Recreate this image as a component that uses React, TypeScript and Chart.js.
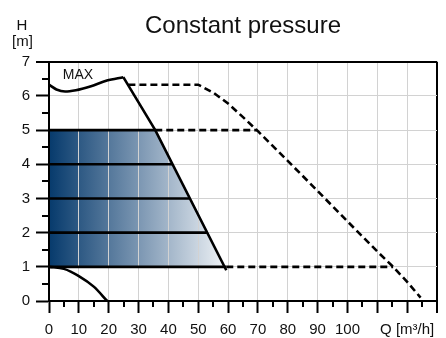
import React, { useEffect, useRef } from 'react';
import { Chart, registerables } from 'chart.js';

Chart.register(...registerables);

const FONT = "'Liberation Sans', Arial, Helvetica, sans-serif";

// ---- text ----
const TITLE = 'Constant pressure';
const Y_UNIT_LINES = ['H', '[m]'];
const X_UNIT_LABEL = 'Q [m³/h]';
const CURVE_LABEL = 'MAX';

// ---- axes ----
const X_MIN = 0;
const X_MAX = 130;
const Y_MIN = 0;
const Y_MAX = 7;
const X_LABELLED_TICKS = [0, 10, 20, 30, 40, 50, 60, 70, 80, 90, 100];
const X_UNIT_TICK = 120;
const Y_LABELLED_TICKS = [0, 1, 2, 3, 4, 5, 6, 7];

// ---- curves (Q in m³/h, H in m) ----
const maxCurveQ = [0, 2.5, 5.4, 9, 13.8, 19.4, 24.9];
const maxCurveH = [6.33, 6.19, 6.13, 6.17, 6.28, 6.45, 6.55];

const cutoffQ = [24.9, 35.6, 59.4];
const cutoffH = [6.55, 5, 0.9];

const levelH = [5, 4, 3, 2, 1];
const levelEndQ = [35.6, 41.3, 47.1, 52.9, 59.4];

const dashedMaxQ = [26.6, 50, 55, 60, 65, 70, 80, 90, 100, 110, 115.3, 120, 124.5];
const dashedMaxH = [6.33, 6.33, 6.1, 5.78, 5.38, 4.97, 4.1, 3.22, 2.33, 1.45, 1.0, 0.56, 0.1];

const dashedLevelH = [5, 1];
const dashedLevelStartQ = [35.6, 59.4];
const dashedLevelEndQ = [69.7, 115.3];

const minCurveQ = [0, 5, 10, 15, 19.5];
const minCurveH = [1, 0.94, 0.73, 0.42, 0];

const areaQ = [0, 35.6, 59.4];
const areaH = [5, 5, 1];
const areaBaseH = 1;
const areaGradientEndQ = 60;

const zip = (q: number[], h: number[]) => q.map((x, i) => ({ x, y: h[i] }));

const BLACK = '#000000';
const GRID = '#d2d2d2';

const textPlugin = {
  id: 'unitText',
  afterDraw(chart: any) {
    const { ctx, scales } = chart;
    ctx.save();
    ctx.fillStyle = '#111';
    ctx.textAlign = 'center';
    ctx.textBaseline = 'alphabetic';
    ctx.font = `15px ${FONT}`;
    ctx.fillText(Y_UNIT_LINES[0], 22, 30);
    ctx.fillText(Y_UNIT_LINES[1], 22.5, 46);
    ctx.textAlign = 'left';
    ctx.font = `14px ${FONT}`;
    ctx.fillText(CURVE_LABEL, scales.x.getPixelForValue(4.6), scales.y.getPixelForValue(6.52) + 0.5);
    ctx.restore();
  },
};

const solidLine = (data: any[], extra: any = {}) => ({
  data,
  borderColor: BLACK,
  borderWidth: 2.6,
  pointRadius: 0,
  fill: false,
  tension: 0,
  ...extra,
});

export default function App() {
  const ref = useRef<HTMLCanvasElement | null>(null);

  useEffect(() => {
    if (!ref.current) return;
    document.body.style.margin = '0';

    const datasets: any[] = [];

    // gradient area
    datasets.push({
      data: zip(areaQ, areaH),
      borderWidth: 0,
      borderColor: 'rgba(0,0,0,0)',
      pointRadius: 0,
      tension: 0,
      fill: { value: areaBaseH },
      backgroundColor: (c: any) => {
        const chart = c.chart;
        const { chartArea, scales } = chart;
        if (!chartArea || !scales.x) return 'rgba(0,0,0,0)';
        const x0 = scales.x.getPixelForValue(0);
        const x1 = scales.x.getPixelForValue(areaGradientEndQ);
        const g = chart.ctx.createLinearGradient(x0, 0, x1, 0);
        g.addColorStop(0, '#063a6c');
        g.addColorStop(0.5, '#7b96b2');
        g.addColorStop(1, '#f2f5f8');
        return g;
      },
    });

    datasets.push(solidLine(zip(maxCurveQ, maxCurveH), { cubicInterpolationMode: 'monotone' }));
    datasets.push(solidLine(zip(cutoffQ, cutoffH)));
    levelH.forEach((h, i) => {
      datasets.push(solidLine([{ x: 0, y: h }, { x: levelEndQ[i], y: h }]));
    });
    datasets.push(solidLine(zip(minCurveQ, minCurveH), { cubicInterpolationMode: 'monotone' }));
    datasets.push(solidLine(zip(dashedMaxQ, dashedMaxH), { borderDash: [7, 4] }));
    dashedLevelH.forEach((h, i) => {
      datasets.push(
        solidLine([{ x: dashedLevelStartQ[i], y: h }, { x: dashedLevelEndQ[i], y: h }], { borderDash: [7, 4] })
      );
    });

    const chart = new Chart(ref.current, {
      type: 'line',
      data: { datasets },
      plugins: [textPlugin],
      options: {
        responsive: false,
        animation: false,
        events: [],
        layout: { padding: { left: 0, right: 9, top: 0, bottom: 0 } },
        plugins: {
          legend: { display: false },
          tooltip: { enabled: false },
          filler: { drawTime: 'beforeDraw' },
          title: {
            display: true,
            text: TITLE,
            fullSize: false,
            color: '#111',
            font: { family: FONT, size: 24, weight: 'normal' },
            padding: { top: 12, bottom: 21 },
          },
        },
        scales: {
          x: {
            type: 'linear',
            position: 'bottom',
            min: X_MIN,
            max: X_MAX,
            afterFit: (s: any) => {
              s.height = 37;
            },
            border: { color: BLACK, width: 2 },
            grid: {
              color: (c: any) => {
                const v = c.tick?.value;
                if (v === X_MAX) return BLACK;
                return v % 10 === 0 ? GRID : 'rgba(0,0,0,0)';
              },
              lineWidth: (c: any) => {
                const v = c.tick?.value;
                if (v === X_MAX) return 2;
                return v % 10 === 0 ? 1 : 0;
              },
              tickColor: BLACK,
              tickWidth: 2,
              tickLength: 12,
              tickBorderDash: (c: any) => (c.tick?.value % 10 === 0 ? [] : [5, 100]),
              tickBorderDashOffset: 0,
            },
            ticks: {
              stepSize: 5,
              autoSkip: false,
              maxTicksLimit: 1000,
              maxRotation: 0,
              minRotation: 0,
              padding: 8,
              color: '#111',
              font: { family: FONT, size: 15 },
              callback: (v: any) => {
                const n = Number(v);
                if (X_LABELLED_TICKS.includes(n)) return String(n);
                if (n === X_UNIT_TICK) return X_UNIT_LABEL;
                return '';
              },
            },
          },
          y: {
            type: 'linear',
            position: 'left',
            min: Y_MIN,
            max: Y_MAX,
            afterFit: (s: any) => {
              s.width = 49;
            },
            border: { color: BLACK, width: 2 },
            grid: {
              color: (c: any) => {
                const v = c.tick?.value;
                if (v === Y_MAX) return BLACK;
                return v % 1 === 0 ? GRID : 'rgba(0,0,0,0)';
              },
              lineWidth: (c: any) => {
                const v = c.tick?.value;
                if (v === Y_MAX) return 2;
                return v % 1 === 0 ? 1 : 0;
              },
              tickColor: BLACK,
              tickWidth: 2,
              tickLength: 13,
              tickBorderDash: (c: any) => (c.tick?.value % 1 === 0 ? [] : [6, 20]),
              tickBorderDashOffset: (c: any) => (c.tick?.value % 1 === 0 ? 0 : 20),
            },
            ticks: {
              stepSize: 0.5,
              autoSkip: false,
              maxTicksLimit: 1000,
              padding: 6,
              color: '#111',
              font: { family: FONT, size: 15 },
              callback: (v: any) => {
                const n = Number(v);
                return Y_LABELLED_TICKS.includes(n) ? String(n) : '';
              },
            },
          },
        },
      } as any,
    });

    return () => chart.destroy();
  }, []);

  return (
    <div style={{ position: 'fixed', left: 0, top: 0, width: 446, height: 338, background: '#fff' }}>
      <canvas ref={ref} width={446} height={338} style={{ display: 'block', width: 446, height: 338 }} />
    </div>
  );
}
